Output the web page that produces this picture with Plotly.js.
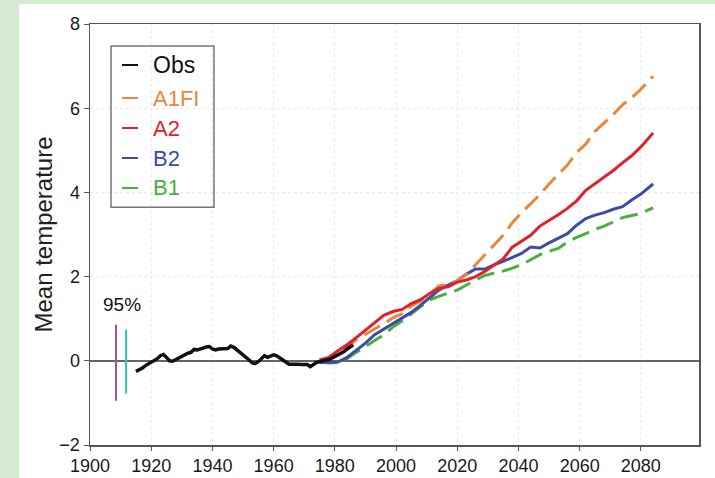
<!DOCTYPE html>
<html>
<head>
<meta charset="utf-8">
<script src="https://cdn.plot.ly/plotly-3.0.1.min.js"></script>
<style>
html,body{margin:0;padding:0;background:#d5ecd2;width:715px;height:478px;overflow:hidden;}
#chart{position:absolute;left:19px;top:4px;width:696px;height:474px;background:#fff;}
</style>
</head>
<body>
<div id="chart"></div>
<script>
// Observations
const obsYears = [1915,1916,1917,1918,1919,1920,1921,1922,1923,1924,1925,1926,1927,1928,1929,1930,1931,1932,1933,1934,1935,1936,1937,1938,1939,1940,1941,1942,1943,1944,1945,1946,1947,1948,1949,1950,1951,1952,1953,1954,1955,1956,1957,1958,1959,1960,1961,1962,1963,1964,1965,1966,1967,1968,1969,1970,1971,1972,1973,1974,1975,1976,1977,1978,1979,1980,1981,1982,1983,1984,1985,1986];
const obsVals = [-0.25,-0.22,-0.18,-0.12,-0.08,-0.05,0.0,0.05,0.12,0.15,0.08,0.0,-0.01,0.03,0.06,0.12,0.15,0.18,0.2,0.27,0.26,0.27,0.3,0.33,0.34,0.28,0.26,0.28,0.29,0.3,0.29,0.35,0.32,0.26,0.2,0.15,0.1,0.02,-0.05,-0.06,-0.02,0.06,0.12,0.08,0.1,0.14,0.12,0.08,0.02,-0.03,-0.08,-0.08,-0.07,-0.08,-0.09,-0.08,-0.09,-0.14,-0.08,-0.04,-0.02,-0.01,0.01,0.03,0.06,0.1,0.13,0.17,0.22,0.28,0.33,0.38];

// Scenario projections
const scenYears = [1975,1978,1981,1984,1987,1990,1993,1996,1999,2002,2005,2008,2011,2014,2017,2020,2023,2026,2029,2032,2035,2038,2041,2044,2047,2050,2053,2056,2059,2062,2065,2068,2071,2074,2077,2080,2083,2084];
const a1fi = [0.0,0.07,0.2,0.33,0.5,0.62,0.74,0.88,1.02,1.12,1.3,1.42,1.58,1.78,1.82,1.9,2.05,2.28,2.5,2.75,2.98,3.28,3.52,3.73,3.95,4.2,4.42,4.65,4.95,5.15,5.45,5.65,5.85,6.08,6.25,6.45,6.7,6.76];
const a2 = [0.02,0.08,0.24,0.38,0.55,0.72,0.9,1.08,1.17,1.22,1.36,1.45,1.6,1.72,1.76,1.87,1.92,2.0,2.12,2.28,2.42,2.7,2.85,2.98,3.2,3.33,3.47,3.62,3.8,4.05,4.2,4.35,4.52,4.7,4.87,5.08,5.32,5.41];
const b2 = [-0.04,-0.04,-0.03,0.08,0.24,0.42,0.62,0.75,0.87,1.0,1.15,1.32,1.5,1.68,1.8,1.9,2.06,2.18,2.18,2.28,2.36,2.45,2.55,2.7,2.68,2.8,2.92,3.02,3.22,3.38,3.46,3.52,3.6,3.66,3.82,3.96,4.14,4.2];
const b1 = [-0.03,-0.05,-0.04,0.05,0.2,0.35,0.48,0.62,0.8,0.95,1.12,1.3,1.45,1.53,1.6,1.68,1.8,1.92,2.03,2.08,2.13,2.2,2.28,2.4,2.52,2.6,2.67,2.82,2.93,3.02,3.12,3.2,3.3,3.4,3.45,3.5,3.6,3.63];

// 95% range bars
const ciPurpleX = [1908.5,1908.5];
const ciPurpleY = [-0.95,0.86];
const ciCyanX = [1911.8,1911.8];
const ciCyanY = [-0.78,0.74];

const seriesNames = ['Obs','A1FI','A2','B2','B1'];
const seriesColors = ['#111111','#e8873a','#e0202a','#3b4ea6','#4cae3e'];

const traces = [
  {x: scenYears, y: b1, mode:'lines', line:{color:seriesColors[4], width:3, dash:'18px,8px'}, name:'B1'},
  {x: scenYears, y: b2, mode:'lines', line:{color:seriesColors[3], width:3}, name:'B2'},
  {x: scenYears, y: a1fi, mode:'lines', line:{color:seriesColors[1], width:3, dash:'18px,8px'}, name:'A1FI'},
  {x: scenYears, y: a2, mode:'lines', line:{color:seriesColors[2], width:3}, name:'A2'},
  {x: obsYears, y: obsVals, mode:'lines', line:{color:seriesColors[0], width:3.5}, name:'Obs'},
  {x: ciPurpleX, y: ciPurpleY, mode:'lines', line:{color:'#a050c0', width:2}, name:'95a'},
  {x: ciCyanX, y: ciCyanY, mode:'lines', line:{color:'#35c0c0', width:2}, name:'95b'}
];

// Legend drawn in paper coordinates
const legRows = [0.9026,0.8242,0.7529,0.6817,0.6105];
const shapes = [
  {type:'rect', xref:'paper', yref:'paper', x0:0.0345, x1:0.2036, y0:0.565, y1:0.948, line:{color:'#777', width:1.5}, fillcolor:'rgba(255,255,255,0)'}
];
const annotations = [
  {xref:'x', yref:'y', x:1910.4, y:1.33, text:'95%', showarrow:false, font:{family:'Liberation Sans, Arial', size:19, color:'#111'}}
];
seriesNames.forEach((n,i)=>{
  shapes.push({type:'line', xref:'paper', yref:'paper', x0:0.0525, x1:0.0788, y0:legRows[i], y1:legRows[i], line:{color:seriesColors[i], width:2}});
  annotations.push({xref:'paper', yref:'paper', x:0.1002, y:legRows[i], xanchor:'left', yanchor:'middle', text:n, showarrow:false,
    font:{family:'Liberation Sans, Arial', size: i===0?23:22, color: i===0?'#111':seriesColors[i]}});
});

const layout = {
  width:696, height:474,
  margin:{l:71, r:16, t:20, b:33},
  paper_bgcolor:'#ffffff', plot_bgcolor:'#ffffff',
  showlegend:false,
  font:{family:'Liberation Sans, Arial', color:'#222'},
  xaxis:{range:[1900,2099], dtick:20, tick0:1900, showline:true, mirror:true, linecolor:'#555', linewidth:1.5,
    ticks:'outside', ticklen:4, tickcolor:'#555', tickfont:{size:18, color:'#1a1a1a'},
    showgrid:true, gridcolor:'#e8e8e8', griddash:'dot', zeroline:false},
  yaxis:{range:[-2,8], dtick:2, showline:true, mirror:true, linecolor:'#555', linewidth:1.5,
    ticks:'outside', ticklen:5, tickcolor:'#555', tickfont:{size:18, color:'#1a1a1a'},
    showgrid:true, gridcolor:'#e8e8e8', griddash:'dot',
    zeroline:true, zerolinecolor:'#666', zerolinewidth:1.5,
    title:{text:'Mean temperature', font:{size:24, color:'#222'}, standoff:0}},
  shapes: shapes,
  annotations: annotations
};

Plotly.newPlot('chart', traces, layout, {displayModeBar:false, staticPlot:true});
</script>
</body>
</html>
